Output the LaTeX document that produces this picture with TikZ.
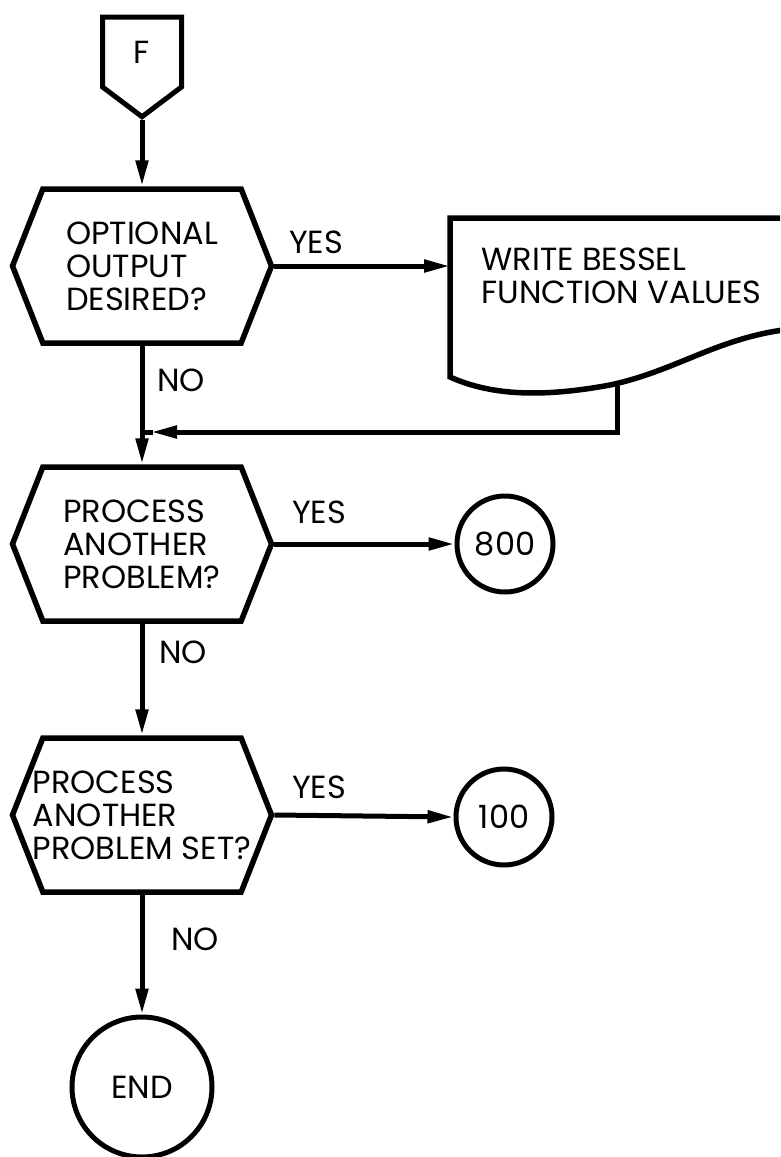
\documentclass[tikz,border=0pt]{standalone}
\usepackage{fontspec}
\setmainfont{Poppins}
\usetikzlibrary{arrows.meta,shapes.symbols}

\tikzset{
  decision/.style={shape=signal, signal to=west and east, signal pointer angle=137,
    draw, line width=5.5pt, minimum width=259pt, minimum height=154pt,
    inner ysep=0pt, inner xsep=-40pt, align=left},
  offpage/.style={shape=signal, signal to=south, signal pointer angle=106,
    draw, line width=5pt, minimum width=79pt, minimum height=76pt, inner sep=0pt},
  connector/.style={shape=circle, draw, line width=5pt, inner sep=0pt},
  flow/.style={line width=5pt, -{Triangle[length=26pt,width=12pt]}},
}

\begin{document}
\begin{tikzpicture}[x=1pt, y=-1pt, every node/.style={font=\fontsize{32}{33}\selectfont}]
  \useasboundingbox (0,0) rectangle (780,1157);
  % entry
  \node[offpage] (F) at (142,52) {F};
  % optional output
  \node[decision] (opt) at (142,266) {OPTIONAL\\OUTPUT\\DESIRED?};
  \begin{scope}
    \clip (0,0) rectangle (780,1157);
    \coordinate (docnw) at (450,218);
    \draw[line width=5.5pt] (800,218) -- (docnw) -- (450,377)
      .. controls (490,395) and (540,398) .. (610,385)
      .. controls (680,370) and (720,335) .. (800,328);
  \end{scope}
  \node[anchor=west, align=left] (write) at (478,276) {WRITE BESSEL\\FUNCTION VALUES};
  \coordinate (docout) at (617,386);
  \coordinate (merge) at (142,432);
  % next problem
  \node[decision] (proc) at (142,544) {PROCESS\\ANOTHER\\PROBLEM?};
  \node[connector, minimum size=96pt] (c800) at (505,544) {800};
  % next problem set
  \node[decision] (set) at (142,815) {PROCESS\\ANOTHER\\PROBLEM SET?};
  \node[connector, minimum size=96pt] (c100) at (504,817) {100};
  \node[connector, minimum size=140pt] (end) at (142,1087) {END};
  % branches
  \node (yes1) at (316,242) {YES};
  \node (no1) at (181,380) {NO};
  \node (yes2) at (319,512) {YES};
  \node (no2) at (183,652) {NO};
  \node (yes3) at (319,787) {YES};
  \node (no3) at (195,939) {NO};
  \draw[flow] (F.south) -- (opt.north);
  \draw[flow] (opt.east) -- (opt.east -| docnw);
  \draw[flow] (docout) |- ([xshift=9pt]merge);
  \draw[line width=5pt] ([xshift=11pt]merge) -- (merge);
  \draw[flow] (opt.south) -- (proc.north);
  \draw[flow] (proc.east) -- (c800.west);
  \draw[flow] (proc.south) -- (set.north);
  \draw[flow] (set.east) -- (c100.west);
  \draw[flow] (set.south) -- (end.north);
\end{tikzpicture}
\end{document}
